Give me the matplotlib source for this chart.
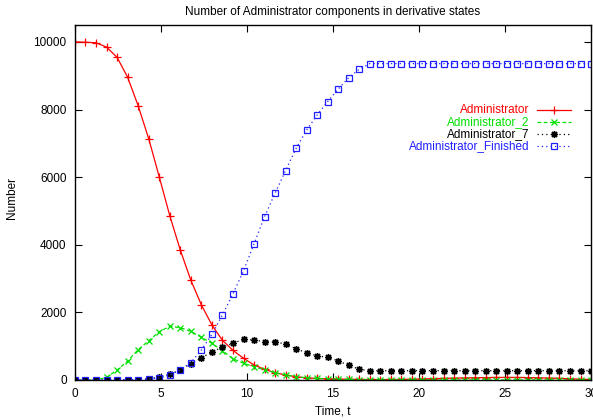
import matplotlib
matplotlib.use("Agg")
import matplotlib.pyplot as plt
from matplotlib.lines import Line2D

plt.rcParams['font.family'] = ['Liberation Sans', 'DejaVu Sans']

title = "Number of Administrator components in derivative states"
xlabel = "Time, t"
ylabel = "Number"
xticks = [0, 5, 10, 15, 20, 25, 30]
yticks = [0, 2000, 4000, 6000, 8000, 10000]

time = [0.00, 0.61, 1.22, 1.84, 2.45, 3.06, 3.67, 4.29, 4.90, 5.51,
        6.12, 6.73, 7.35, 7.96, 8.57, 9.18, 9.80, 10.41, 11.02, 11.63,
        12.24, 12.86, 13.47, 14.08, 14.69, 15.31, 15.92, 16.53, 17.14, 17.76,
        18.37, 18.98, 19.59, 20.20, 20.82, 21.43, 22.04, 22.65, 23.27, 23.88,
        24.49, 25.10, 25.71, 26.33, 26.94, 27.55, 28.16, 28.78, 29.39, 30.00]

administrator = [10000, 9990, 9975, 9845, 9540, 8955, 8115, 7130, 6005, 4860,
                 3846, 2958, 2219, 1627, 1174, 878, 642, 444, 316, 216,
                 148, 98, 62, 45, 35, 28, 22, 18, 15, 14,
                 15, 18, 24, 32, 40, 48, 55, 62, 68, 72,
                 75, 76, 75, 72, 66, 58, 48, 36, 24, 15]

administrator_2 = [0, 0, 2, 79, 296, 562, 897, 1163, 1430, 1588,
                   1548, 1440, 1262, 1085, 867, 630, 494, 394, 296, 216,
                   148, 98, 62, 45, 32, 22, 15, 10, 7, 5,
                   4, 3, 2, 2, 1, 1, 1, 0, 0, 0,
                   0, 0, 0, 0, 0, 0, 0, 0, 0, 0]

administrator_7 = [0, 0, 0, 0, 0, 3, 10, 30, 89, 168,
                   296, 483, 651, 838, 967, 1085, 1204, 1183, 1134, 1124,
                   1065, 917, 808, 710, 672, 562, 435, 316, 275, 275,
                   275, 275, 275, 275, 275, 275, 275, 275, 275, 275,
                   275, 275, 275, 275, 275, 275, 275, 275, 275, 275]

administrator_finished = [0, 0, 0, 0, 0, 3, 10, 30, 59, 148,
                          296, 512, 888, 1351, 1923, 2544, 3230, 4030, 4832, 5523,
                          6193, 6855, 7396, 7840, 8234, 8609, 8944, 9192, 9358, 9358,
                          9358, 9358, 9358, 9358, 9358, 9358, 9358, 9358, 9358, 9358,
                          9358, 9358, 9358, 9358, 9358, 9358, 9358, 9358, 9358, 9358]

labels = ["Administrator", "Administrator_2", "Administrator_7", "Administrator_Finished"]
colors = ["#ff0000", "#00e000", "#000000", "#2020ff"]

W, H = 593, 420
fig = plt.figure(figsize=(W / 100, H / 100), dpi=100)
AX_L, AX_R, AX_T, AX_B = 75, 591, 25, 380
ax = fig.add_axes([AX_L / W, (H - AX_B) / H, (AX_R - AX_L) / W, (AX_B - AX_T) / H])

FS = 8.5
lw = 0.9
styles = [
    dict(ls='-', marker='+', ms=5.5, mew=0.9, mfc=None),
    dict(ls=(0, (3, 2)), marker='x', ms=4.5, mew=0.9, mfc=None),
    dict(ls=(0, (1, 2.5)), marker=(8, 2, 0), ms=5, mew=1.0, mfc=None),
    dict(ls=(0, (1, 2.5)), marker='s', ms=4.3, mew=0.9, mfc='none'),
]
series = [administrator, administrator_2, administrator_7, administrator_finished]

for y, c, st, lab in zip(series, colors, styles, labels):
    kw = dict(st)
    mfc = kw.pop('mfc')
    if mfc is not None:
        kw['mfc'] = mfc
    ax.plot(time, y, color=c, lw=lw, label=lab, **kw)

ax.set_xlim(0, 30)
ax.set_ylim(0, 10500)
ax.set_xticks(xticks)
ax.set_xticklabels([str(v) for v in xticks])
ax.set_yticks(yticks)
ax.set_yticklabels([str(v) for v in yticks])
ax.tick_params(direction='in', length=5, width=0.8, top=True, right=True,
               labelsize=FS, colors='black')
ax.tick_params(axis='x', pad=6)
ax.tick_params(axis='y', pad=6)
for s in ax.spines.values():
    s.set_linewidth(1.0)

ax.set_title(title, fontsize=FS, pad=7)
ax.set_xlabel(xlabel, fontsize=FS, labelpad=4)
fig.text(12 / W, 1 - 198 / H, ylabel, rotation=90, ha='center', va='center', fontsize=FS)

# manual legend (text right-aligned, sample on the right), gnuplot style
def fx(px):
    return (px - AX_L) / (AX_R - AX_L)

def fy(py):
    return (AX_B - py) / (AX_B - AX_T)

rows = [110, 122, 134, 146]
for py, c, st, lab in zip(rows, colors, styles, labels):
    ax.text(fx(529), fy(py), lab, color=c, fontsize=FS, ha='right', va='center',
            transform=ax.transAxes)
    kw = dict(st)
    mfc = kw.pop('mfc')
    ln = Line2D([fx(537), fx(571)], [fy(py), fy(py)], color=c, lw=lw, ls=kw['ls'],
                transform=ax.transAxes)
    ax.add_line(ln)
    mk = Line2D([fx(554)], [fy(py)], color=c, marker=kw['marker'], ms=kw['ms'], mew=kw['mew'],
                ls='none', transform=ax.transAxes)
    if mfc is not None:
        mk.set_markerfacecolor(mfc)
    ax.add_line(mk)

fig.savefig("out.png", dpi=100)
